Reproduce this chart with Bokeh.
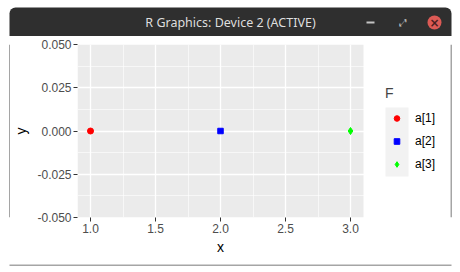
from bokeh.plotting import figure
from bokeh.layouts import column, row
from bokeh.models import (FixedTicker, PrintfTickFormatter, Range1d, Legend, LegendItem,
                          BoxAnnotation, Label, Title)
from bokeh.embed import file_html
from bokeh.resources import INLINE

# ---- data ----
categories = ["a[1]", "a[2]", "a[3]"]
x_values = [1.0, 2.0, 3.0]
y_values = [0.0, 0.0, 0.0]
colors = ["#ff0000", "#0000ff", "#00ff00"]
markers = ["circle", "square", "diamond"]
marker_sizes = [6, 5.5, 7]
x_ticks = [1.0, 1.5, 2.0, 2.5, 3.0]
x_minor = [1.25, 1.75, 2.25, 2.75]
y_ticks = [-0.05, -0.025, 0.0, 0.025, 0.05]
y_minor = [-0.0375, -0.0125, 0.0125, 0.0375]
x_lim = (0.9, 3.1)
y_lim = (-0.05, 0.05)
x_label = "x"
y_label = "y"
legend_title = "F"
window_title = "R Graphics: Device 2 (ACTIVE)"

W, H = 460, 272
WIN_L, WIN_R, WIN_T, WIN_B = 9, 451, 7, 263   # window outline (canvas px)
BAR_B = 36                                     # bottom of title bar
PAN_L, PAN_R, PAN_T, PAN_B = 77, 363, 44, 217  # plot panel (canvas px)
BORDER = "#4d4d4d"
BAR = "#2f2f2f"


def deco(width, height):
    f = figure(width=width, height=height, output_backend="svg", toolbar_location=None,
               x_range=Range1d(0, width), y_range=Range1d(0, height),
               min_border=0, min_border_left=0, min_border_right=0,
               min_border_top=0, min_border_bottom=0)
    f.axis.visible = False
    f.grid.visible = False
    f.outline_line_color = None
    f.background_fill_color = "white"
    f.border_fill_color = "white"
    return f


def dbox(f, height, l, t, r, b, **kw):
    # canvas-like coordinates (y down) inside a decoration figure
    f.add_layout(BoxAnnotation(left=l, right=r, top=height - t, bottom=height - b,
                               line_color=None, fill_alpha=1, **kw))


# ---- title bar ----
T = deco(W, BAR_B)
dbox(T, BAR_B, WIN_L, WIN_T, WIN_R, BAR_B, fill_color=BAR, border_radius=(6, 6, 0, 0))
T.add_layout(Label(x=230, y=BAR_B - 21.5, text=window_title, text_align="center",
                   text_baseline="middle", text_font="Noto Sans", text_font_size="12.5px",
                   text_color="#dedede"))
dbox(T, BAR_B, 366, 21, 374, 23, fill_color="#c4c4c4")
T.add_layout(Label(x=402, y=BAR_B - 22, text="⤢", text_align="center",
                   text_baseline="middle", text_font="DejaVu Sans", text_font_size="10px",
                   text_color="#c4c4c4"))
dbox(T, BAR_B, 427, 15, 441, 29, fill_color="#dc5a55", border_radius=7)
T.add_layout(Label(x=434, y=BAR_B - 22, text="×", text_align="center",
                   text_baseline="middle", text_font="DejaVu Sans", text_font_size="12px",
                   text_font_style="bold", text_color="#4a2020"))

MID_H = WIN_B - 1 - BAR_B   # rows 36..261

# ---- side strips ----
LS = deco(WIN_L + 1, MID_H)
dbox(LS, MID_H, WIN_L, 0, WIN_L + 1, MID_H, fill_color=BORDER)
RS = deco(W - WIN_R + 1, MID_H)
dbox(RS, MID_H, 0, 0, 1, MID_H, fill_color=BORDER)

# ---- bottom strip ----
B = deco(W, H - (WIN_B - 1))
dbox(B, H - (WIN_B - 1), WIN_L, 0, WIN_R, 1, fill_color=BORDER)

# ---- main plot ----
M_W = (WIN_R - 1) - (WIN_L + 1)   # cols 10..449
M_L = WIN_L + 1
px_per_x = (PAN_R - PAN_L) / (x_lim[1] - x_lim[0])
x_end = x_lim[1] + ((M_L + M_W) - PAN_R) / px_per_x

p = figure(width=M_W, height=MID_H, output_backend="svg", toolbar_location=None,
           x_range=Range1d(x_lim[0], x_end), y_range=Range1d(*y_lim),
           min_border_left=PAN_L - M_L, min_border_right=0,
           min_border_top=PAN_T - BAR_B, min_border_bottom=(BAR_B + MID_H) - PAN_B)
p.background_fill_color = "white"
p.border_fill_color = "white"
p.outline_line_color = None

# grey panel behind the grid
p.add_layout(BoxAnnotation(left=x_lim[0], right=x_lim[1], bottom=y_lim[0], top=y_lim[1],
                           fill_color="#ebebeb", fill_alpha=1, line_color=None,
                           level="image"))

p.xaxis.ticker = FixedTicker(ticks=x_ticks, minor_ticks=x_minor)
p.yaxis.ticker = FixedTicker(ticks=y_ticks, minor_ticks=y_minor)
p.xaxis.formatter = PrintfTickFormatter(format="%.1f")
p.yaxis.formatter = PrintfTickFormatter(format="%.3f")
p.xaxis.bounds = x_lim
p.yaxis.axis_label = y_label
for ax in (p.xaxis, p.yaxis):
    ax.axis_line_color = None
    ax.major_tick_line_color = "#333333"
    ax.major_tick_out = 4
    ax.major_tick_in = 0
    ax.minor_tick_line_color = None
    ax.major_label_text_font = "Liberation Sans"
    ax.major_label_text_font_size = "12px"
    ax.major_label_text_color = "#4d4d4d"
    ax.major_label_standoff = 2
    ax.axis_label_text_font = "Liberation Sans"
    ax.axis_label_text_font_size = "14px"
    ax.axis_label_text_font_style = "normal"
    ax.axis_label_text_color = "black"
    ax.axis_label_standoff = 5

# x axis title, centred under the grey panel (not under the whole frame)
XLAB_W = 7
p.add_layout(Title(text=x_label, align="left",
                   offset=(PAN_R - PAN_L) / 2 - XLAB_W / 2,
                   text_font="Liberation Sans", text_font_size="14px",
                   text_font_style="normal", text_color="black", standoff=3), "below")

for g in (p.xgrid, p.ygrid):
    g.grid_line_color = "white"
    g.grid_line_width = 1.3
    g.minor_grid_line_color = "white"
    g.minor_grid_line_width = 0.6

# legend key background (screen units relative to the frame)
KEY_L, KEY_R, KEY_T, KEY_B = 385, 408, 107, 176
p.add_layout(BoxAnnotation(left=KEY_L - PAN_L, right=KEY_R - PAN_L,
                           top=PAN_B - KEY_T, bottom=PAN_B - KEY_B,
                           left_units="screen", right_units="screen",
                           top_units="screen", bottom_units="screen",
                           fill_color="#f2f2f2", fill_alpha=1, line_color=None))

items = []
for i, cat in enumerate(categories):
    r = p.scatter(x=[x_values[i]], y=[y_values[i]], marker=markers[i],
                  color=colors[i], size=marker_sizes[i])
    items.append(LegendItem(label=cat, renderers=[r]))

legend = Legend(items=items, location=(KEY_L - PAN_L, PAN_B - (KEY_B - 5)),
                title=legend_title,
                background_fill_alpha=0, border_line_color=None,
                padding=0, margin=0, spacing=9,
                glyph_height=14, glyph_width=23, label_height=14, label_standoff=7,
                label_text_font="Liberation Sans", label_text_font_size="12px",
                label_text_color="black",
                title_text_font="Liberation Sans", title_text_font_size="14px",
                title_text_font_style="normal", title_standoff=10)
p.add_layout(legend)

layout = column(T, row(LS, p, RS), B)
open("out.html", "w").write(file_html(layout, INLINE))
